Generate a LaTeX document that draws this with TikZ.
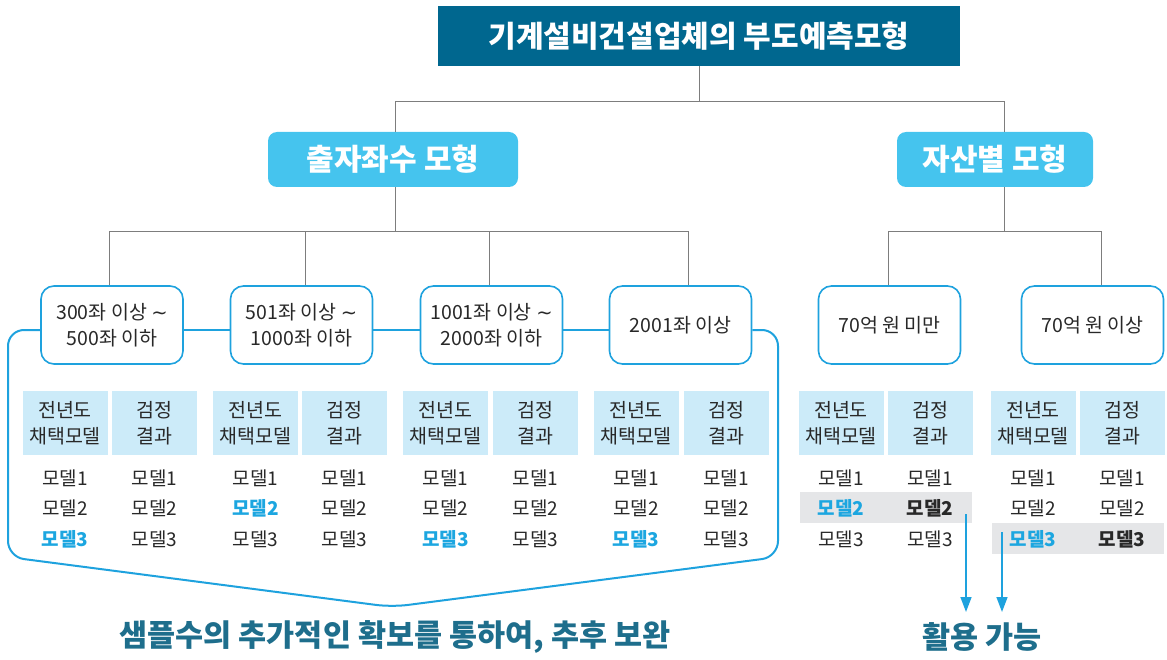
\documentclass[tikz,border=0pt]{standalone}
\usepackage{fontspec}
\setmainfont{Noto Sans CJK KR}
\newfontfamily\symfont{DejaVu Sans}
\usetikzlibrary{arrows.meta,calc}
\definecolor{titlecol}{RGB}{0,103,143}
\definecolor{catcol}{RGB}{69,196,238}
\definecolor{bline}{RGB}{30,162,222}
\definecolor{hcellcol}{RGB}{204,235,249}
\definecolor{graycol}{RGB}{229,230,232}
\definecolor{hltext}{RGB}{28,166,224}
\definecolor{notecol}{RGB}{30,110,140}
\definecolor{conncol}{RGB}{125,125,125}
\definecolor{txt}{RGB}{40,40,40}
\newcommand{\wave}{{\symfont ∼}}
\begin{document}
\begin{tikzpicture}[x=1pt,y=-1pt,
  titlebox/.style={fill=titlecol, text=white, font=\fontsize{30}{34}\selectfont\bfseries, minimum width=522pt, minimum height=60pt, inner sep=0pt},
  catbox/.style={fill=catcol, text=white, rounded corners=9pt, font=\fontsize{30}{33}\selectfont\bfseries, minimum height=55pt, inner sep=0pt},
  grpbox/.style={draw=bline, line width=1.6pt, fill=white, rounded corners=13pt, minimum width=142pt, minimum height=78pt, align=center, inner sep=0pt, font=\fontsize{19.5}{26}\selectfont, text=txt},
  hcellst/.style={fill=hcellcol, minimum width=85pt, minimum height=64pt, inner sep=0pt, align=center, font=\fontsize{19.5}{26}\selectfont, text=txt},
  hlrow/.style={fill=graycol, minimum width=172pt, minimum height=31pt, inner sep=0pt},
  mt/.style={font=\fontsize{19}{21}\selectfont, text=txt, inner sep=0pt},
  mhl/.style={font=\fontsize{19}{21}\selectfont\bfseries, text=hltext, inner sep=0pt},
  mbd/.style={font=\fontsize{19}{21}\selectfont\bfseries, text=txt, inner sep=0pt},
  conn/.style={draw=conncol, line width=0.8pt},
  blink/.style={draw=bline, line width=2pt},
  arr/.style={draw=bline, line width=1.5pt, -{Triangle[width=11pt,length=15pt]}},
  note/.style={font=\fontsize{30.5}{33}\selectfont\bfseries, text=notecol, inner sep=0pt}
]
\useasboundingbox (0,0) rectangle (1167,660);

% title and categories
\node[titlebox] (top) at (699,36) {기계설비건설업체의 부도예측모형};
\node[catbox, minimum width=250pt] (c1) at (393,159.5) {출자좌수 모형};
\node[catbox, minimum width=196pt] (c2) at (995,159.5) {자산별 모형};

% group boxes
\node[grpbox] (b1) at (112,325) {300좌 이상 \wave\\500좌 이하};
\node[grpbox] (b2) at (301.5,325) {501좌 이상 \wave\\1000좌 이하};
\node[grpbox] (b3) at (491.5,325) {1001좌 이상 \wave\\2000좌 이하};
\node[grpbox] (b4) at (680.5,325) {2001좌 이상};
\node[grpbox] (b5) at (889.5,325) {70억 원 미만};
\node[grpbox] (b6) at (1092.5,325) {70억 원 이상};

% tree connectors
\coordinate (j0) at (699,101);
\draw[conn] (top.south) -- (j0);
\draw[conn] (j0) -| ([xshift=2pt]c1.north);
\draw[conn] (j0) -| ([xshift=9pt]c2.north);
\coordinate (j1) at (395,231);
\draw[conn] ([xshift=2pt]c1.south) -- (j1);
\draw[conn] (j1) -| ([xshift=-3pt]b1.north);
\draw[conn] (j1) -| ([xshift=3.5pt]b2.north);
\draw[conn] (j1) -| ([xshift=-2.5pt]b3.north);
\draw[conn] (j1) -| ([xshift=7.5pt]b4.north);
\coordinate (j2) at (1004,231);
\draw[conn] ([xshift=9pt]c2.south) -- (j2);
\draw[conn] (j2) -| ([xshift=-1.5pt]b5.north);
\draw[conn] (j2) -| ([xshift=8.5pt]b6.north);

% blue bracket
\draw[blink] ([yshift=-5pt]b1.east) -- ([yshift=-5pt]b2.west);
\draw[blink] ([yshift=-5pt]b2.east) -- ([yshift=-5pt]b3.west);
\draw[blink] ([yshift=-5pt]b3.east) -- ([yshift=-5pt]b4.west);
\draw[blink, rounded corners=16pt] ([yshift=-5pt]b1.west) -- (8,330) -- (8,557) -- (392,607) -- (778,557) -- (778,330) -- ([yshift=-5pt]b4.east);

% header cells
\foreach \g/\xa/\xb in {1/65/154.5, 2/255.5/344.5, 3/445.5/535.5, 4/636/726, 5/841/930, 6/1033/1122} {
  \node[hcellst] (h\g a) at (\xa,423) {전년도\\채택모델};
  \node[hcellst] (h\g b) at (\xb,423) {검정\\결과};
}

% highlight rows
\node[hlrow] (g5) at (886,507.5) {};
\node[hlrow] (g6) at (1078,538.5) {};

% model lists
\node[mt] (m1a1) at (65,478) {모델1};
\node[mt] (m1a2) at (65,508) {모델2};
\node[mhl] (m1a3) at (65,539) {모델3};
\node[mt] (m1b1) at (154.5,478) {모델1};
\node[mt] (m1b2) at (154.5,508) {모델2};
\node[mt] (m1b3) at (154.5,539) {모델3};

\node[mt] (m2a1) at (255.5,478) {모델1};
\node[mhl] (m2a2) at (255.5,508) {모델2};
\node[mt] (m2a3) at (255.5,539) {모델3};
\node[mt] (m2b1) at (344.5,478) {모델1};
\node[mt] (m2b2) at (344.5,508) {모델2};
\node[mt] (m2b3) at (344.5,539) {모델3};

\node[mt] (m3a1) at (445.5,478) {모델1};
\node[mt] (m3a2) at (445.5,508) {모델2};
\node[mhl] (m3a3) at (445.5,539) {모델3};
\node[mt] (m3b1) at (535.5,478) {모델1};
\node[mt] (m3b2) at (535.5,508) {모델2};
\node[mt] (m3b3) at (535.5,539) {모델3};

\node[mt] (m4a1) at (636,478) {모델1};
\node[mt] (m4a2) at (636,508) {모델2};
\node[mhl] (m4a3) at (636,539) {모델3};
\node[mt] (m4b1) at (726,478) {모델1};
\node[mt] (m4b2) at (726,508) {모델2};
\node[mt] (m4b3) at (726,539) {모델3};

\node[mt] (m5a1) at (841,478) {모델1};
\node[mhl] (m5a2) at (841,508) {모델2};
\node[mt] (m5a3) at (841,539) {모델3};
\node[mt] (m5b1) at (930,478) {모델1};
\node[mbd] (m5b2) at (930,508) {모델2};
\node[mt] (m5b3) at (930,539) {모델3};

\node[mt] (m6a1) at (1033,478) {모델1};
\node[mt] (m6a2) at (1033,508) {모델2};
\node[mhl] (m6a3) at (1033,539) {모델3};
\node[mt] (m6b1) at (1122,478) {모델1};
\node[mt] (m6b2) at (1122,508) {모델2};
\node[mbd] (m6b3) at (1122,539) {모델3};

% bottom notes
\node[note] (n1) at (395,637) {샘플수의 추가적인 확보를 통하여, 추후 보완};
\node[note] (n2) at (982,637) {활용 가능};

% arrows
\coordinate (a1s) at (966,514);
\coordinate (a2s) at (1002,532);
\draw[arr] (a1s) -- (a1s |- 0,612);
\draw[arr] (a2s) -- (a2s |- 0,612);
\end{tikzpicture}
\end{document}
